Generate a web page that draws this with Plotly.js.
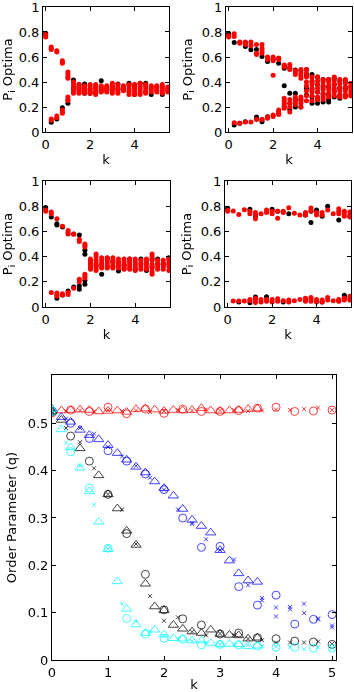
<!DOCTYPE html>
<html>
<head>
<meta charset="utf-8">
<script src="https://cdn.plot.ly/plotly-3.0.1.min.js"></script>
<style>
  html, body { margin: 0; padding: 0; background: #fff; }
  #plot { width: 354px; height: 692px; }
</style>
</head>
<body>
<div id="plot"></div>
<script>
// k values of the four small panels (one stack of runs per k)
var kSteps = [0, 0.25, 0.5, 0.75, 1, 1.25, 1.5, 1.75, 2, 2.25, 2.5, 2.75, 3,
  3.25, 3.5, 3.75, 4, 4.25, 4.5, 4.75, 5, 5.25, 5.5];

// panel A (top left)
var redA = [[0.78,0.77,0.76],[0.68,0.67,0.66,0.104,0.095],[0.65,0.64,0.128,0.115],
  [0.57,0.56,0.55,0.176,0.16,0.15],[0.48,0.46,0.44,0.43,0.28,0.26,0.25],
  [0.40,0.38,0.36,0.34,0.32,0.31],[0.38,0.36,0.35,0.34,0.33,0.32,0.31],
  [0.37,0.36,0.35,0.34,0.33,0.32,0.31],[0.38,0.37,0.35,0.34,0.33,0.32,0.31],
  [0.38,0.36,0.35,0.33,0.32,0.31,0.30],[0.37,0.36,0.35,0.34,0.33,0.32],
  [0.37,0.36,0.35,0.34,0.33,0.32],[0.39,0.37,0.36,0.34,0.33,0.31],
  [0.38,0.36,0.35,0.34,0.32,0.31],[0.37,0.36,0.35,0.34,0.33],
  [0.38,0.37,0.35,0.33,0.32,0.30],[0.38,0.36,0.35,0.33,0.31,0.30],
  [0.39,0.37,0.36,0.34,0.32,0.30],[0.38,0.37,0.35,0.33,0.32,0.31],
  [0.37,0.36,0.35,0.34,0.32],[0.37,0.36,0.34,0.33,0.32],
  [0.38,0.36,0.35,0.33,0.31],[0.36,0.35,0.34,0.33,0.32]];
var blackA = [[0.79],[0.078],[0.104],[0.195],[0.23],[0.417,0.35],[0.38,0.36],
  [0.385,0.31],[0.31],[0.36],[0.41,0.33],[0.34],[0.36],[0.385,0.34],[0.35],
  [0.39],[0.377,0.30],[0.39],[0.39],[0.30],[0.36],[0.30],[0.33]];

// panel B (top right)
var redB = [[0.77,0.76],[0.786,0.765,0.075],[0.72,0.71,0.07],[0.72,0.70,0.08],
  [0.72,0.69,0.08],[0.70,0.63,0.62,0.10],[0.70,0.67,0.65,0.63,0.10],
  [0.60,0.58,0.123,0.11],[0.60,0.59,0.57,0.455,0.136,0.125],
  [0.59,0.58,0.176,0.16,0.14],[0.537,0.52,0.27,0.25,0.23,0.21,0.19],
  [0.54,0.52,0.50,0.26,0.23,0.20,0.16],[0.49,0.48,0.46,0.28,0.26,0.24,0.22],
  [0.50,0.47,0.45,0.43,0.28,0.25,0.23,0.20],[0.50,0.47,0.44,0.40,0.37,0.33,0.29,0.25],
  [0.44,0.41,0.38,0.35,0.32,0.29,0.25],[0.44,0.41,0.38,0.35,0.32,0.28,0.26],
  [0.42,0.40,0.37,0.34,0.31,0.28,0.26],[0.42,0.40,0.37,0.34,0.31,0.28],
  [0.44,0.41,0.38,0.35,0.32,0.29],[0.42,0.39,0.36,0.33,0.30,0.28],
  [0.42,0.39,0.36,0.33,0.30,0.28],[0.39,0.37,0.35,0.33,0.31,0.29]];
var blackB = [[0.79,0.78],[0.717,0.056],[0.07],[0.717,0.685,0.083],[0.658],
  [0.66,0.12,0.104],[0.604,0.10,0.083],[0.564,0.123],[0.58],[0.59,0.55,0.15],
  [0.53,0.51,0.37,0.20],[0.51,0.31,0.23,0.18],[0.497,0.31,0.26,0.20],
  [0.49,0.26,0.20],[0.50,0.45,0.35,0.297],[0.46,0.40,0.34,0.28,0.23],
  [0.44,0.38,0.32,0.26,0.23],[0.42,0.36,0.30,0.24],[0.42,0.36,0.30,0.26,0.24],
  [0.43,0.38,0.33,0.28],[0.41,0.35,0.29,0.27],[0.41,0.35,0.29],[0.36,0.29]];

// panel C (middle left)
var redC = [[0.76,0.77],[0.754,0.74,0.114],[0.70,0.11,0.095,0.087],[0.64,0.105,0.095],
  [0.608,0.59,0.58,0.114,0.10],[0.577,0.148],[0.537,0.52,0.22,0.20],
  [0.50,0.49,0.476,0.26,0.24,0.23],[0.38,0.36,0.35,0.34,0.32,0.31,0.30],
  [0.42,0.40,0.37,0.35,0.33,0.31,0.29],[0.39,0.37,0.35,0.34,0.32,0.31],
  [0.39,0.37,0.35,0.33,0.32,0.31],[0.39,0.37,0.35,0.33,0.32,0.31],
  [0.38,0.36,0.35,0.33,0.31],[0.38,0.36,0.34,0.33,0.31,0.30],
  [0.38,0.36,0.35,0.33,0.31,0.30],[0.38,0.36,0.34,0.32,0.30,0.29],
  [0.37,0.35,0.34,0.32,0.30],[0.38,0.36,0.34,0.32,0.30],
  [0.42,0.40,0.37,0.34,0.31,0.28,0.26],[0.37,0.35,0.34,0.32,0.30],
  [0.37,0.35,0.34,0.32,0.30],[0.38,0.36,0.34,0.32,0.29]];
var blackC = [[0.79],[0.714],[0.66,0.65,0.069],[0.635,0.095],[0.127],[0.58,0.159],
  [0.571,0.167,0.14],[0.45,0.418,0.21,0.18],[0.36],[0.33],[0.26],[0.386],[0.36],
  [0.286],[0.33],[0.38],[0.30],[0.38],[0.29],[0.38,0.32],[0.38],[0.34],[0.39]];

// panel D (middle right)
var redD = [[0.767,0.76],[0.762,0.048],[0.735,0.048],[0.772,0.048],[0.76,0.74,0.06,0.05],
  [0.75,0.73,0.70,0.07,0.055,0.035],[0.74,0.06,0.04],[0.77,0.75,0.06,0.045],
  [0.76,0.74,0.06,0.04],[0.704,0.76,0.065,0.045],[0.76,0.75,0.05],[0.788,0.055,0.04],
  [0.745,0.05],[0.73,0.06],[0.75,0.73,0.07,0.055,0.045],[0.785,0.765,0.075,0.06,0.045],
  [0.75,0.73,0.06,0.04],[0.75,0.73,0.055,0.04],[0.77,0.075,0.055],[0.74,0.05],
  [0.78,0.76,0.74,0.06,0.045],[0.76,0.74,0.72,0.07,0.055],[0.755,0.73,0.715,0.085,0.07,0.055]];
var blackD = [[0.783],[],[0.04],[],[0.775,0.034],[0.722,0.079],[],[0.082],[0.775],[0.76],
  [0.04],[0.74],[],[],[0.73,0.06],[0.67,0.76],[0.77],[0.72,0.04],[0.80],[],
  [0.69,0.05],[0.093,0.075],[0.72]];

// bottom panel: order parameter q against k
var kSixth = [0, 0.167, 0.333, 0.5, 0.667, 0.833, 1, 1.167, 1.333, 1.5, 1.667, 1.833,
  2, 2.167, 2.333, 2.5, 2.667, 2.833, 3, 3.167, 3.333, 3.5, 3.667];
var kThird = [0, 0.333, 0.667, 1, 1.333, 1.667, 2, 2.333, 2.667, 3, 3.333, 3.667,
  4, 4.333, 4.667, 5];
var kQuarter = [0, 0.25, 0.5, 0.75, 1, 1.25, 1.5, 1.75, 2, 2.25, 2.5, 2.75, 3, 3.25,
  3.5, 3.75, 4, 4.25, 4.5, 4.75, 5];

var redTri = [0.530,0.527,0.528,0.529,0.528,0.525,0.526,0.527,0.524,0.530,0.531,0.529,
  0.526,0.528,0.527,0.528,0.532,0.527,0.526,0.527,0.528,0.530,0.531];
var redCirc = [0.522,0.528,0.525,0.534,0.520,0.530,0.521,0.530,0.525,0.525,0.527,0.532,
  0.534,0.525,0.526,0.528];
var redX = [0.524,0.526,0.527,0.525,0.528,0.526,0.527,0.524,0.526,0.528,0.527,0.529,
  0.527,0.528,0.526,0.527,0.529,0.528,0.530,0.533,0.528];

var blueTri = [0.530,0.513,0.503,0.486,0.475,0.466,0.454,0.437,0.423,0.408,0.396,0.377,
  0.363,0.347,0.319,0.296,0.283,0.269,0.232,0.210,0.183,0.168,0.165];
var blueCirc = [0.525,0.500,0.468,0.442,0.420,0.393,0.360,0.300,0.238,0.240,0.155,0.116,
  0.137,0.076,0.086,0.096];
var blueXk = [0, 0.25, 0.5, 0.75, 1, 1.25, 1.5, 1.75, 2, 2.25, 2.5, 2.5, 2.75, 3, 3.25,
  3.5, 3.75, 3.75, 4, 4, 4.25, 4.25, 4.5, 4.5, 4.75, 4.75, 5, 5];
var blueXq = [0.525, 0.51, 0.49, 0.478, 0.45, 0.43, 0.41, 0.385, 0.36, 0.318, 0.29, 0.287,
  0.255, 0.232, 0.212, 0.158, 0.131, 0.126, 0.111, 0.092, 0.112, 0.107, 0.119, 0.099,
  0.088, 0.086, 0.073, 0.069];

var blackTriK = [0, 0.167, 0.5, 0.833, 1, 1.167, 1.333, 1.5, 1.667, 1.833, 2, 2.167,
  2.333, 2.5, 2.667, 2.833, 3, 3.167, 3.333, 3.5, 3.667];
var blackTri = [0.525, 0.507, 0.447, 0.39, 0.35, 0.32, 0.273, 0.243, 0.161, 0.113, 0.105,
  0.074, 0.066, 0.06, 0.057, 0.064, 0.055, 0.053, 0.052, 0.045, 0.047];
var blackCirc = [0.525,0.473,0.42,0.35,0.267,0.181,0.106,0.087,0.074,0.055,0.057,0.047,
  0.045,0.04,0.038,0.033];
var blackX = [0.525,0.49,0.46,0.405,0.35,0.318,0.245,0.135,0.083,0.09,0.06,0.052,0.056,
  0.053,0.045,0.042,0.037,0.037,0.037,0.039,0.034];

var cyanTri = [0.53,0.487,0.449,0.406,0.356,0.292,0.234,0.166,0.108,0.075,0.057,0.064,
  0.054,0.046,0.045,0.041,0.041,0.036,0.033,0.034,0.033,0.029,0.03];
var cyanCirc = [0.525,0.44,0.363,0.236,0.088,0.055,0.046,0.044,0.032,0.033,0.032,0.029,
  0.027,0.027,0.025,0.025];
var cyanX = [0.525,0.459,0.41,0.328,0.235,0.119,0.082,0.06,0.05,0.045,0.04,0.037,0.033,
  0.033,0.031,0.03,0.028,0.027,0.023,0.027,0.025];

// flatten a per-k list of stacks into x / y arrays
function stack(vals) {
  var x = [], y = [];
  vals.forEach(function (col, i) {
    col.forEach(function (v) { x.push(kSteps[i]); y.push(v); });
  });
  return {x: x, y: y};
}

function dots(vals, color, n) {
  var s = stack(vals);
  return {
    x: s.x, y: s.y, type: 'scatter', mode: 'markers',
    xaxis: 'x' + n, yaxis: 'y' + n, showlegend: false, hoverinfo: 'x+y',
    marker: {color: color, size: 5, line: {width: 0}}
  };
}

function open(x, y, color, symbol, size) {
  return {
    x: x, y: y, type: 'scatter', mode: 'markers', xaxis: 'x5', yaxis: 'y5',
    showlegend: false, opacity: 0.75,
    marker: {symbol: symbol, color: color, size: size, line: {color: color, width: 1}}
  };
}

var data = [
  dots(blackA, 'black', ''), dots(redA, 'red', ''),
  dots(blackB, 'black', 2), dots(redB, 'red', 2),
  dots(blackC, 'black', 3), dots(redC, 'red', 3),
  dots(blackD, 'black', 4), dots(redD, 'red', 4),
  open(kSixth, redTri, 'red', 'triangle-up-open', 9),
  open(kThird, redCirc, 'red', 'circle-open', 8),
  open(kQuarter, redX, 'red', 'x-thin-open', 4),
  open(kSixth, blueTri, 'blue', 'triangle-up-open', 9),
  open(kThird, blueCirc, 'blue', 'circle-open', 8),
  open(blueXk, blueXq, 'blue', 'x-thin-open', 4),
  open(blackTriK, blackTri, 'black', 'triangle-up-open', 9),
  open(kThird, blackCirc, 'black', 'circle-open', 8),
  open(kQuarter, blackX, 'black', 'x-thin-open', 4),
  open(kSixth, cyanTri, 'cyan', 'triangle-up-open', 9),
  open(kThird, cyanCirc, 'cyan', 'circle-open', 8),
  open(kQuarter, cyanX, 'cyan', 'x-thin-open', 4)
];

var font = {family: 'DejaVu Sans', size: 13, color: 'black'};

function ax(domain, range, dtick, anchor, title, extra) {
  var a = {
    domain: domain, range: range, dtick: dtick, anchor: anchor,
    showline: true, mirror: 'ticks', linecolor: 'black', linewidth: 1,
    ticks: 'inside', ticklen: 4, tickcolor: 'black',
    showgrid: false, zeroline: false, tickfont: font,
    ticklabeloverflow: 'allow',
    title: {text: title, font: font, standoff: 4}
  };
  for (var key in extra) a[key] = extra[key];
  return a;
}

var pi = 'P<sub>i</sub> Optima';
var layout = {
  width: 354, height: 692,
  margin: {l: 0, r: 0, t: 0, b: 0},
  paper_bgcolor: 'white', plot_bgcolor: 'white',
  font: font,
  xaxis: ax([0.1215, 0.4774], [-0.12, 5.55], 2, 'y', 'k'),
  yaxis: ax([0.8092, 0.9899], [0, 1], 0.2, 'x', pi, {title: {text: pi, font: font, standoff: 6}}),
  xaxis2: ax([0.6384, 0.9944], [-0.12, 5.55], 2, 'y2', 'k'),
  yaxis2: ax([0.8092, 0.9899], [0, 1], 0.2, 'x2', pi, {title: {text: pi, font: font, standoff: 6}}),
  xaxis3: ax([0.1215, 0.4802], [-0.12, 5.55], 2, 'y3', 'k'),
  yaxis3: ax([0.5564, 0.7384], [0, 1], 0.2, 'x3', pi, {title: {text: pi, font: font, standoff: 6}}),
  xaxis4: ax([0.6356, 0.9915], [-0.12, 5.55], 2, 'y4', 'k'),
  yaxis4: ax([0.5564, 0.7384], [0, 1], 0.2, 'x4', pi, {title: {text: pi, font: font, standoff: 6}}),
  xaxis5: ax([0.1469, 0.9492], [0, 5.07], 1, 'y5', 'k'),
  yaxis5: ax([0.0462, 0.4581], [0, 0.602], 0.1, 'x5', 'Order Parameter (q)',
    {tickvals: [0, 0.1, 0.2, 0.3, 0.4, 0.5], title: {text: 'Order Parameter (q)', font: font, standoff: 8}})
};

Plotly.newPlot('plot', data, layout, {staticPlot: true});
</script>
</body>
</html>
